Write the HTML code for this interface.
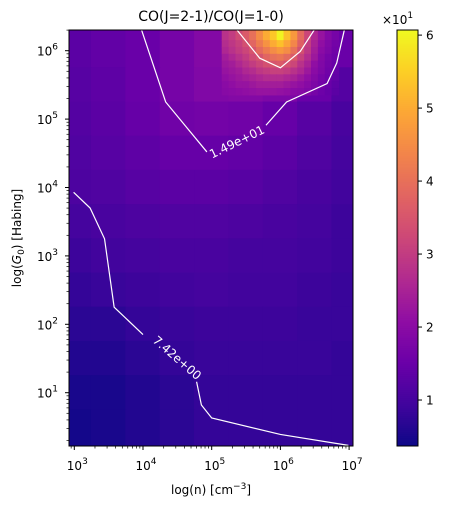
<!DOCTYPE html>
<html><head><meta charset="utf-8"><style>
html,body{margin:0;padding:0;background:#fff;}
svg text{font-family:"DejaVu Sans","Liberation Sans",sans-serif;}
</style></head><body>
<svg id="chart" width="466" height="511" viewBox="0 0 466 511" xmlns="http://www.w3.org/2000/svg">
<defs><clipPath id="pc"><rect x="69" y="30" width="284" height="416"/></clipPath></defs>
<text x="211" y="21" font-size="14" text-anchor="middle">CO(J=2-1)/CO(J=1-0)</text>
<g id="heat" clip-path="url(#pc)"></g>
<g id="contours" clip-path="url(#pc)"></g>
<rect x="69" y="30" width="284" height="416" fill="none" stroke="#000" stroke-width="1"/>
<g id="axes"></g>
<text x="211" y="494" font-size="12" text-anchor="middle">log(n) [cm<tspan dy="-5" font-size="9">−3</tspan><tspan dy="5">]</tspan></text>
<text transform="translate(21,238) rotate(-90)" font-size="12" text-anchor="middle">log(<tspan font-style="italic">G</tspan><tspan dy="3" font-size="9">0</tspan><tspan dy="-3">) [Habing]</tspan></text>
<g id="cbar"></g>
</svg>
<script>
// ----- data -----
const coarseX = [3.0,3.5,4.0,4.5,5.0,5.5,6.0,6.5,7.0];
const coarseY = [6.0,5.5,5.0,4.5,4.0,3.5,3.0,2.5,2.0,1.5,1.0,0.5];
const coarseVals = [
[1.3,1.4,1.5,1.7,1.9,2.0,2.3,2.0,1.5],
[1.25,1.35,1.5,1.7,1.85,1.9,1.8,1.5,1.2],
[1.2,1.3,1.45,1.6,1.65,1.6,1.45,1.25,1.05],
[1.15,1.25,1.35,1.45,1.45,1.4,1.3,1.15,1.0],
[1.1,1.15,1.25,1.3,1.3,1.25,1.15,1.05,0.95],
[1.0,1.05,1.1,1.15,1.15,1.1,1.05,1.0,0.9],
[0.9,0.95,1.0,1.05,1.05,1.0,1.0,0.95,0.9],
[0.8,0.85,0.9,0.95,1.0,0.95,0.95,0.9,0.85],
[0.7,0.7,0.8,0.85,0.9,0.9,0.9,0.85,0.85],
[0.6,0.6,0.7,0.8,0.85,0.85,0.85,0.85,0.8],
[0.5,0.5,0.6,0.7,0.8,0.8,0.8,0.8,0.8],
[0.45,0.5,0.6,0.7,0.8,0.8,0.8,0.8,0.8]];
const fineX = [5.2,5.3,5.4,5.5,5.6,5.7,5.8,5.9,6.0,6.1,6.2,6.3,6.4,6.5,6.6,6.7,6.8];
const fineY = [6.2,6.1,6.0,5.9,5.8,5.7,5.6,5.5,5.4];
const fineVals = [
[2.8,3.0,3.3,3.6,4.0,4.5,5.0,5.4,6.0,5.3,4.7,3.9,3.2,2.6,2.2,1.9,1.7],
[2.7,2.9,3.1,3.4,3.8,4.2,4.6,5.0,5.3,4.9,4.4,3.7,3.0,2.5,2.1,1.85,1.65],
[2.6,2.8,3.0,3.2,3.5,3.9,4.2,4.5,4.7,4.5,4.0,3.4,2.9,2.4,2.0,1.8,1.6],
[2.4,2.6,2.8,3.0,3.3,3.5,3.8,4.0,4.1,3.9,3.6,3.1,2.7,2.3,1.9,1.7,1.55],
[2.3,2.4,2.6,2.8,3.0,3.2,3.4,3.5,3.6,3.4,3.2,2.8,2.5,2.1,1.85,1.65,1.5],
[2.2,2.3,2.4,2.6,2.7,2.9,3.0,3.1,3.1,3.0,2.8,2.6,2.3,2.0,1.8,1.6,1.45],
[2.1,2.2,2.3,2.4,2.5,2.6,2.7,2.7,2.7,2.6,2.5,2.3,2.1,1.9,1.7,1.55,1.4],
[2.0,2.1,2.2,2.2,2.3,2.4,2.4,2.4,2.4,2.3,2.2,2.1,1.95,1.8,1.65,1.5,1.35],
[1.95,2.0,2.05,2.1,2.15,2.2,2.2,2.2,2.15,2.1,2.0,1.95,1.85,1.7,1.55,1.45,1.3]];
// contour vertices (log n, log G0)
const contHighX = [3.98,4.33,4.93];
const contHighY = [6.3,5.25,4.52];
const contHigh2X = [5.79,6.09,6.68,6.82,6.93];
const contHigh2Y = [4.91,5.25,5.52,5.82,6.3];
const contInnerX = [5.37,5.70,6.0,6.29,6.49];
const contInnerY = [6.3,5.89,5.75,5.99,6.3];
const contLowX = [2.99,3.23,3.44,3.58,4.0];
const contLowY = [3.93,3.70,3.25,2.25,1.85];
const contLow2X = [4.78,4.85,5.0,6.0,6.99];
const contLow2Y = [1.16,0.82,0.63,0.39,0.23];
const xTickLabels = ["3","4","5","6","7"];
const yTickLabels = ["1","2","3","4","5","6"];
const cbTicks = [1,2,3,4,5,6];
const vmin = 0.37, vmax = 6.07;

// ----- scales -----
const X = l => 74.3 + (l-3)*68.7;
const Y = l => 50.7 + (6-l)*68.4;
const CBY = v => 446 - (v-vmin)/(vmax-vmin)*416;
const stops = ["#0d0887","#41049d","#6a00a8","#8f0da4","#b12a90","#cc4778","#e16462","#f2844b","#fca636","#fcce25","#f0f921"];
function hex(h){return [1,3,5].map(i=>parseInt(h.substr(i,2),16));}
function cmap(v){let t=Math.max(0,Math.min(1,(v-vmin)/(vmax-vmin)))*10;let i=Math.min(9,Math.floor(t)),f=t-i;
 const a=hex(stops[i]),b=hex(stops[i+1]);return "rgb("+a.map((c,k)=>Math.round(c+(b[k]-c)*f)).join(",")+")";}
const NS="http://www.w3.org/2000/svg";
function el(tag,attrs,parent){const e=document.createElementNS(NS,tag);for(const k in attrs)e.setAttribute(k,attrs[k]);parent.appendChild(e);return e;}

const heat=document.getElementById('heat');
coarseY.forEach((yc,r)=>coarseX.forEach((xc,c)=>{
 const x0=X(xc-0.25)-0.5,x1=X(xc+0.25)+0.5,y0=Y(yc+0.25+(r===0?0.2:0))-0.5,y1=Y(yc-0.25-(r===coarseY.length-1?0.2:0))+0.5;
 const e=el('rect',{x:x0,y:y0,width:x1-x0,height:y1-y0,fill:cmap(coarseVals[r][c])},heat);
 
 
}));
fineY.forEach((yc,r)=>fineX.forEach((xc,c)=>{
 const x0=X(xc-0.05)-0.3,x1=X(xc+0.05)+0.3,y0=Y(yc+0.05+(r===0?0.1:0))-0.3,y1=Y(yc-0.05)+0.3;
 const e=el('rect',{x:x0,y:y0,width:x1-x0,height:y1-y0,fill:cmap(fineVals[r][c])},heat);
 
 
}));

const cg=document.getElementById('contours');
function line(xs,ys,name){const e=el('polyline',{points:xs.map((x,i)=>X(x)+","+Y(ys[i])).join(" "),fill:"none",stroke:"#fff","stroke-width":1.2},cg);
 
 }
line(contHighX,contHighY,'contour-1.49e1');
line(contHigh2X,contHigh2Y,'contour-1.49e1-b');
line(contInnerX,contInnerY,'contour-inner');
line(contLowX,contLowY,'contour-7.42');
line(contLow2X,contLow2Y,'contour-7.42-b');
let lb=el('text',{x:237,y:146,fill:"#fff","font-size":12,"text-anchor":"middle",transform:"rotate(-26 237 142)"},cg);lb.textContent="1.49e+01";


lb=el('text',{x:177,y:362,fill:"#fff","font-size":12,"text-anchor":"middle",transform:"rotate(41 177 358)"},cg);lb.textContent="7.42e+00";



const ax=document.getElementById('axes');
function sup(parent,x,y,base,exp,anchor,name){const t=el('text',{x:x,y:y,"font-size":12,"text-anchor":anchor},parent);
 
 
 const a=el('tspan',{},t);a.textContent=base;const b=el('tspan',{dy:-6,"font-size":9},t);b.textContent=exp;}
xTickLabels.forEach(l=>{const v=+l,px=X(v);
 el('line',{x1:px,y1:446,x2:px,y2:450,stroke:"#000"},ax);
 sup(ax,px+3,470,"10",l,"middle",'x-tick-label');
 if(v<7)for(let k=2;k<10;k++){const m=X(v+Math.log10(k));el('line',{x1:m,y1:446,x2:m,y2:448.5,stroke:"#000","stroke-width":0.7},ax);}
});
for(let k=9;k<10;k++){const m=X(2+Math.log10(k));if(m>69)el('line',{x1:m,y1:446,x2:m,y2:448.5,stroke:"#000","stroke-width":0.7},ax);}
yTickLabels.forEach(l=>{const v=+l,py=Y(v);
 el('line',{x1:65,y1:py,x2:69,y2:py,stroke:"#000"},ax);
 sup(ax,58,py+5,"10",l,"end",'y-tick-label');
});
for(let d=0;d<=6;d++)for(let k=2;k<10;k++){const m=Y(d+Math.log10(k));if(m>30&&m<446)el('line',{x1:66.5,y1:m,x2:69,y2:m,stroke:"#000","stroke-width":0.7},ax);}

const cb=document.getElementById('cbar');
for(let i=0;i<208;i++){const y=446-(i+1)*2;el('rect',{x:397,y:y,width:21,height:2.3,fill:cmap(vmin+(i+0.5)/208*(vmax-vmin))},cb);}
el('rect',{x:397,y:30,width:21,height:416,fill:"none",stroke:"#000"},cb);
cbTicks.forEach(v=>{const py=CBY(v);el('line',{x1:418,y1:py,x2:422,y2:py,stroke:"#000"},cb);
 const t=el('text',{x:426,y:py+4.5,"font-size":12},cb);t.textContent=String(v);
 
 });
const mult=el('text',{x:382,y:24,"font-size":12},cb);


const m1=el('tspan',{},mult);m1.textContent="×10";const m2=el('tspan',{dy:-6,"font-size":9},mult);m2.textContent="1";
</script>
</body></html>
